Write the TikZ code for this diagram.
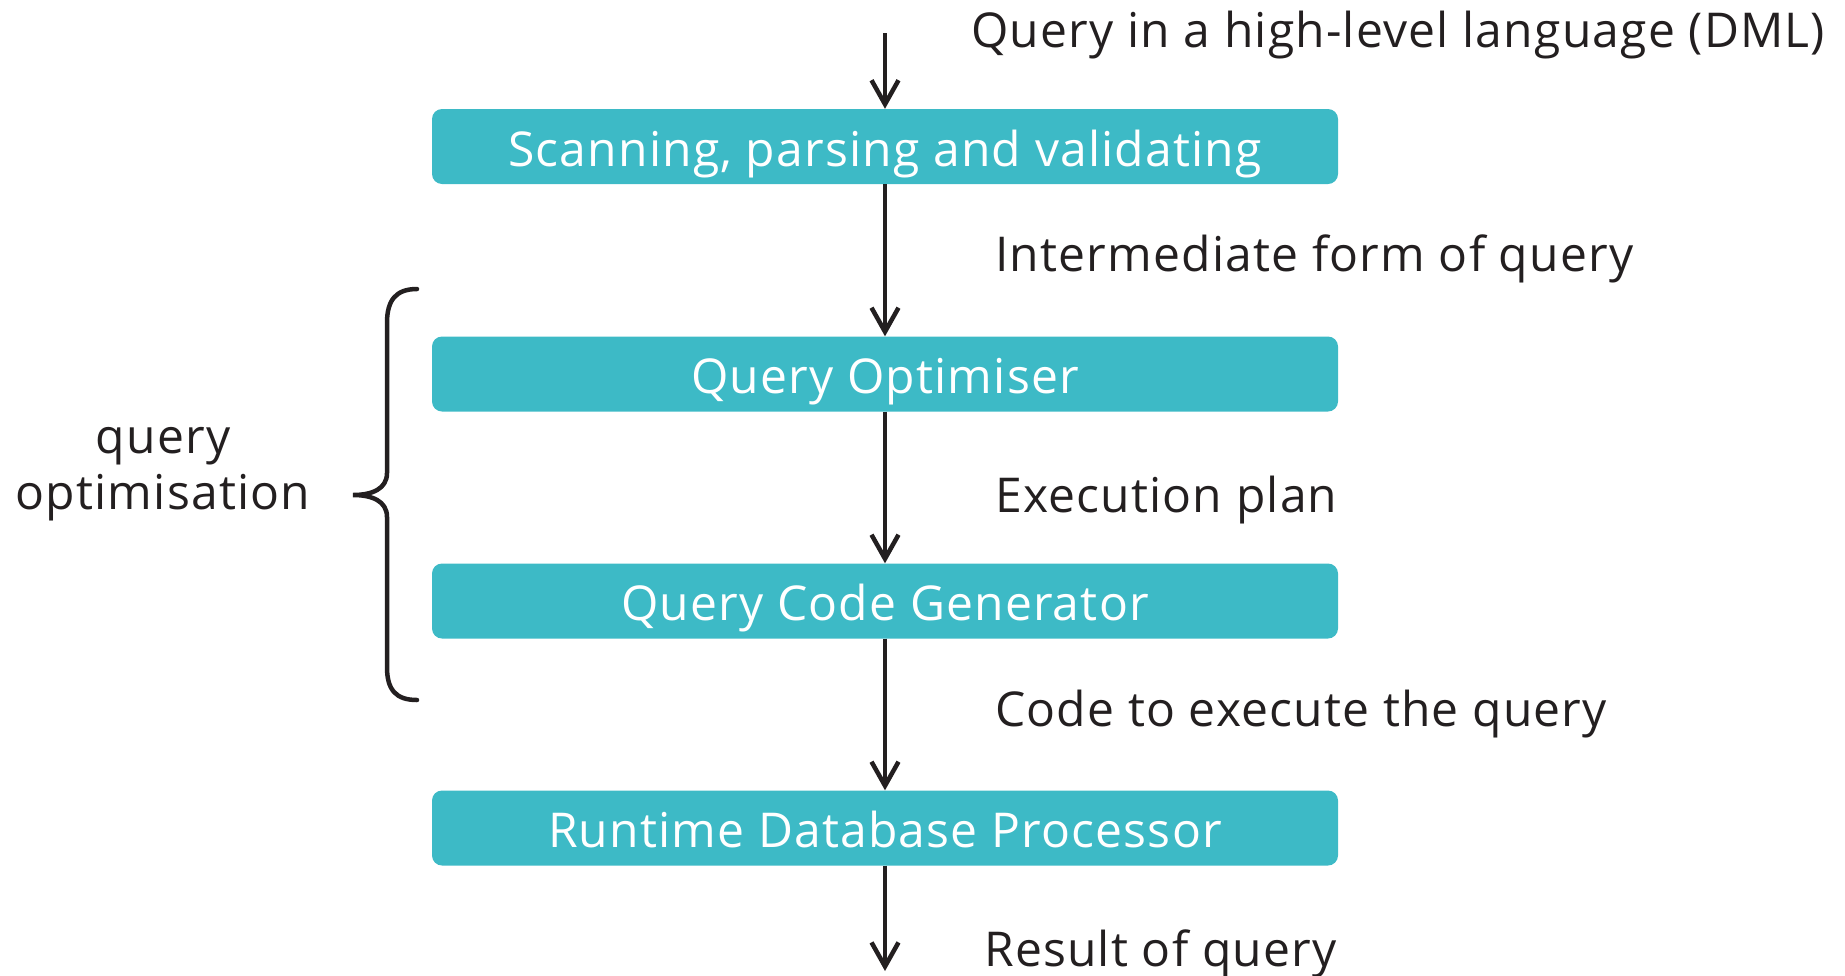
\documentclass[tikz,border=0pt]{standalone}
\usepackage{fontspec}
\setmainfont[LetterSpace=2.5]{Open Sans}
\usetikzlibrary{arrows.meta}
\definecolor{teal1}{RGB}{61,186,198}
\definecolor{ink}{RGB}{35,31,32}
\begin{document}
\begin{tikzpicture}[x=1pt,y=-1pt,
  stage/.style={fill=teal1, rounded corners=10pt, minimum width=906pt, minimum height=75pt,
    inner sep=0pt, text height=39pt, text depth=0pt, text=white, font=\fontsize{48}{56}\selectfont},
  lbl/.style={anchor=base west, inner sep=0pt, text=ink, font=\fontsize{48}{56}\selectfont},
  flow/.style={draw=ink, line width=4.5pt, -{Straight Barb[length=24pt,width=27pt]}},
  brace/.style={draw=ink, line width=4.5pt, line cap=round}]
\useasboundingbox (0,0) rectangle (1845,975);
\node[stage] (scan) at (885,146.5) {Scanning, parsing and validating};
\node[stage] (opt)  at (885,374) {Query Optimiser};
\node[stage] (gen)  at (885,601) {Query Code Generator};
\node[stage] (run)  at (885,828) {Runtime Database Processor};
\coordinate (in)  at (885,33);
\coordinate (out) at (885,971);
\draw[flow] (in) -- (scan.north);
\draw[flow] (scan.south) -- (opt.north);
\draw[flow] (opt.south) -- (gen.north);
\draw[flow] (gen.south) -- (run.north);
\draw[flow] (run.south) -- (out);
\node[lbl] (l0) at (971,47)  {Query in a high-level language (DML)};
\node[lbl] (l1) at (995,271) {Intermediate form of query};
\node[lbl] (l2) at (995,512) {Execution plan};
\node[lbl] (l3) at (995,726) {Code to execute the query};
\node[lbl] (l4) at (984,966) {Result of query};
\node[lbl, anchor=base] (q1) at (163,453) {query};
\node[lbl, anchor=base] (q2) at (163,509) {optimisation};
\draw[brace] (417,289) .. controls (396,289) and (387,300) .. (387,323)
  -- (387,473) .. controls (387,489) and (372,495) .. (353,495)
  .. controls (372,495) and (387,501) .. (387,517)
  -- (387,667) .. controls (387,690) and (396,700) .. (417,700);
\end{tikzpicture}
\end{document}
